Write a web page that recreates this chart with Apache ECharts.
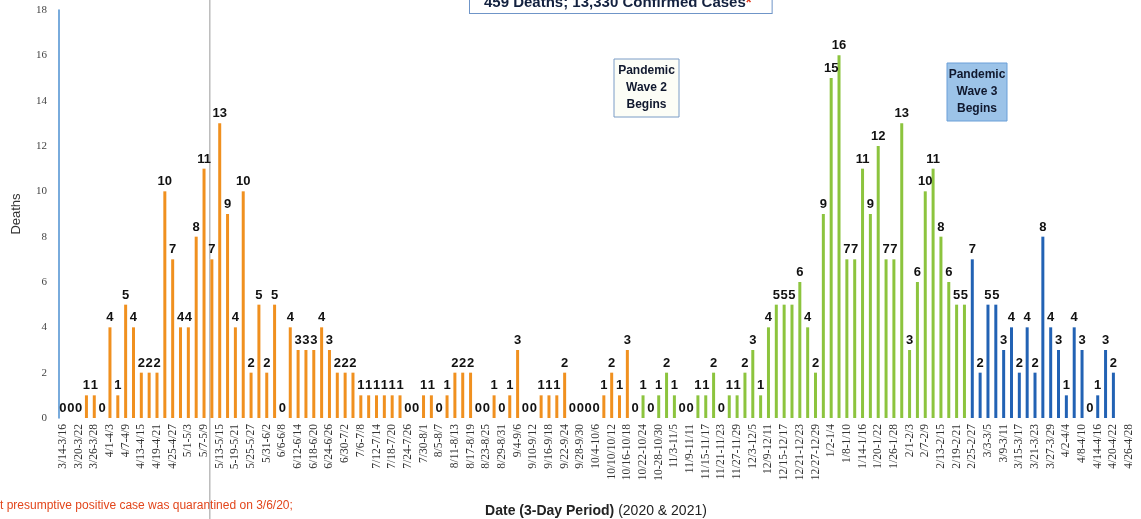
<!DOCTYPE html>
<html>
<head>
<meta charset="utf-8">
<script src="https://cdn.jsdelivr.net/npm/echarts@6.0.0/dist/echarts.min.js"></script>
<style>
  html, body { margin: 0; padding: 0; background: #fff; }
  #chart01 { width: 1141px; height: 519px; }
</style>
</head>
<body>
<div id="chart01"></div>
<script>
// 3-day periods, 3/14/2020 - 4/28/2021
var cats = [
  '3/14-3/16','3/17-3/19','3/20-3/22','3/23-3/25','3/26-3/28','3/29-3/31',
  '4/1-4/3','4/4-4/6','4/7-4/9','4/10-4/12','4/13-4/15','4/16-4/18',
  '4/19-4/21','4/22-4/24','4/25-4/27','4/28-4/30','5/1-5/3','5/4-5/6',
  '5/7-5/9','5/10-5/12','5/13-5/15','5/16-5/18','5-19-5/21','5/22-5/24',
  '5/25-5/27','5/28-5/30','5/31-6/2','6/3-6/5','6/6-6/8','6/9-6/11',
  '6/12-6/14','6/15-6/17','6/18-6/20','6/21-6/23','6/24-6/26','6/27-6/29',
  '6/30-7/2','7/3-7/5','7/6-7/8','7/9-7/11','7/12-7/14','7/15-7/17',
  '7/18-7/20','7/21-7/23','7/24-7/26','7/27-7/29','7/30-8/1','8/2-8/4',
  '8/5-8/7','8/8-8/10','8/11-8/13','8/14-8/16','8/17-8/19','8/20-8/22',
  '8/23-8/25','8/26-8/28','8/29-8/31','9/1-9/3','9/4-9/6','9/7-9/9',
  '9/10-9/12','9/13-9/15','9/16-9/18','9/19-9/21','9/22-9/24','9/25-9/27',
  '9/28-9/30','10/1-10/3','10/4-10/6','10/7-10/9','10/10/10/12','10/13-10/15',
  '10/16-10/18','10/19-10/21','10/22-10/24','10/25-10/27','10-28-10/30','10/31-11/2',
  '11/3-11/5','11/6-11/8','11/9-11/11','11/12-11/14','11/15-11/17','11/18-11/20',
  '11/21-11/23','11/24-11/26','11/27-11/29','11/30-12/2','12/3-12/5','12/6-12/8',
  '12/9-12/11','12/12-12/14','12/15-12/17','12/18-12/20','12/21-12/23','12/24-12/26',
  '12/27-12/29','12/30-1/1','1/2-1/4','1/5-1/7','1/8-1/10','1/11-1/13',
  '1/14-1/16','1/17-1/19','1/20-1/22','1/23-1/25','1/26-1/28','1/29-1/31',
  '2/1-2/3','2/4-2/6','2/7-2/9','2/10-2/12','2/13-2/15','2/16-2/18',
  '2/19-2/21','2/22-2/24','2/25-2/27','2/28-3/2','3/3-3/5','3/6-3/8',
  '3/9-3/11','3/12-3/14','3/15-3/17','3/18-3/20','3/21-3/23','3/24-3/26',
  '3/27-3/29','3/30-4/1','4/2-4/4','4/5-4/7','4/8-4/10','4/11-4/13',
  '4/14-4/16','4/17-4/19','4/20-4/22','4/23-4/25','4/26-4/28'
];

// deaths per 3-day period (total 459)
var deaths = [
  0,0,0,1,1,0,4,1,5,4,
  2,2,2,10,7,4,4,8,11,7,
  13,9,4,10,2,5,2,5,0,4,
  3,3,3,4,3,2,2,2,1,1,
  1,1,1,1,0,0,1,1,0,1,
  2,2,2,0,0,1,0,1,3,0,
  0,1,1,1,2,0,0,0,0,1,
  2,1,3,0,1,0,1,2,1,0,
  0,1,1,2,0,1,1,2,3,1,
  4,5,5,5,6,4,2,9,15,16,
  7,7,11,9,12,7,7,13,3,6,
  10,11,8,6,5,5,7,2,5,5,
  3,4,2,4,2,8,4,3,1,4,
  3,0,1,3,2,null,null
];

var yTicks = [0,2,4,6,8,10,12,14,16,18];

// first period of each wave
var wave2Start = '10/19-10/21';
var wave3Start = '2/25-2/27';
var quarantineMark = '5/10-5/12';

var waveColors = ['#f0901f', '#8cc43e', '#2262b4'];

var myChart = echarts.init(document.getElementById('chart01'));

var w2 = cats.indexOf(wave2Start);
var w3 = cats.indexOf(wave3Start);

// little boxed note (rect + centred text)
function noteBox(id, x, y, w, h, fill, stroke, text) {
        return {
                id: id,
                type: 'group',
                x: x,
                y: y,
                children: [
                        {
                                type: 'rect',
                                shape: { x: 0, y: 0, width: w, height: h },
                                style: { fill: fill, stroke: stroke, lineWidth: 1 }
                        },
                        {
                                type: 'text',
                                x: w / 2,
                                y: h / 2,
                                style: {
                                        text: text,
                                        align: 'center',
                                        verticalAlign: 'middle',
                                        fontSize: 12,
                                        fontWeight: 'bold',
                                        lineHeight: 17,
                                        fill: '#10182e',
                                        fontFamily: 'Liberation Sans'
                                }
                        }
                ]
        };
}

option = {
        animation: false,
        textStyle: { fontFamily: 'Liberation Sans' },
        grid: { left: 59, right: 8, top: 10, bottom: 101, outerBoundsMode: 'none' },
        xAxis: {
                type: 'category',
                data: cats,
                axisLine: { show: false },
                axisTick: { show: false },
                axisLabel: {
                        rotate: 90,
                        interval: 1,
                        margin: 6,
                        fontSize: 11.5,
                        color: '#333',
                        fontFamily: 'Liberation Sans Narrow'
                },
                name: '{b|Date (3-Day Period)} (2020 & 2021)',
                nameLocation: 'middle',
                nameGap: 86,
                nameTextStyle: {
                        fontSize: 14,
                        color: '#222',
                        rich: { b: { fontSize: 14, fontWeight: 'bold', color: '#222' } }
                }
        },
        yAxis: {
                type: 'value',
                min: yTicks[0],
                max: yTicks[yTicks.length - 1],
                interval: 2,
                splitLine: { show: false },
                axisLine: { show: true, lineStyle: { color: '#4d8fd0', width: 1.5 } },
                axisTick: { show: false },
                axisLabel: { margin: 12, fontSize: 11, color: '#444', fontFamily: 'Liberation Serif' },
                name: 'Deaths',
                nameLocation: 'middle',
                nameGap: 36,
                nameTextStyle: { fontSize: 13, color: '#333' }
        },
        series: [
                {
                        name: 'Deaths',
                        type: 'bar',
                        data: deaths,
                        barWidth: 3,
                        itemStyle: {
                                color: function (p) {
                                        if (p.dataIndex >= w3) return waveColors[2];
                                        if (p.dataIndex >= w2) return waveColors[1];
                                        return waveColors[0];
                                }
                        },
                        label: {
                                show: true,
                                position: 'top',
                                distance: 3,
                                fontSize: 13,
                                fontWeight: 'bold',
                                color: '#111'
                        }
                }
        ],
        graphic: {
                elements: [
                        {
                                id: 'headline',
                                type: 'text',
                                left: 469,
                                top: -8,
                                style: {
                                        text: '{t|459 Deaths; 13,330 Confirmed Cases}{r|*}',
                                        rich: {
                                                t: { fontSize: 15, fontWeight: 'bold', fill: '#13213f' },
                                                r: { fontSize: 15, fontWeight: 'bold', fill: '#e03a1e' }
                                        },
                                        backgroundColor: '#fff',
                                        borderColor: '#6f95c8',
                                        borderWidth: 1,
                                        padding: [2, 20, 3, 14]
                                }
                        },
                        noteBox('wave2', 614, 59, 65, 58, '#fcfdf6', '#7a9cc6', 'Pandemic\nWave 2\nBegins'),
                        noteBox('wave3', 947, 63, 60, 58, '#9cc3e8', '#6a9fd8', 'Pandemic\nWave 3\nBegins'),
                        {
                                id: 'note',
                                type: 'text',
                                left: 0,
                                top: 500,
                                style: {
                                        text: 't presumptive positive case was quarantined on 3/6/20;',
                                        fontSize: 12,
                                        fill: '#e2461c'
                                }
                        }
                ]
        }
};
myChart.setOption(option);

// thin gray marker line through the chart at the 5/10-5/12 period
var markX = myChart.convertToPixel({ xAxisIndex: 0 }, quarantineMark);
myChart.setOption({
        graphic: {
                elements: [
                        {
                                id: 'markLine',
                                type: 'line',
                                z: 0,
                                shape: { x1: markX - 2, y1: 0, x2: markX - 2, y2: 519 },
                                style: { stroke: '#9a9a9a', lineWidth: 1 }
                        }
                ]
        }
});
</script>
</body>
</html>
